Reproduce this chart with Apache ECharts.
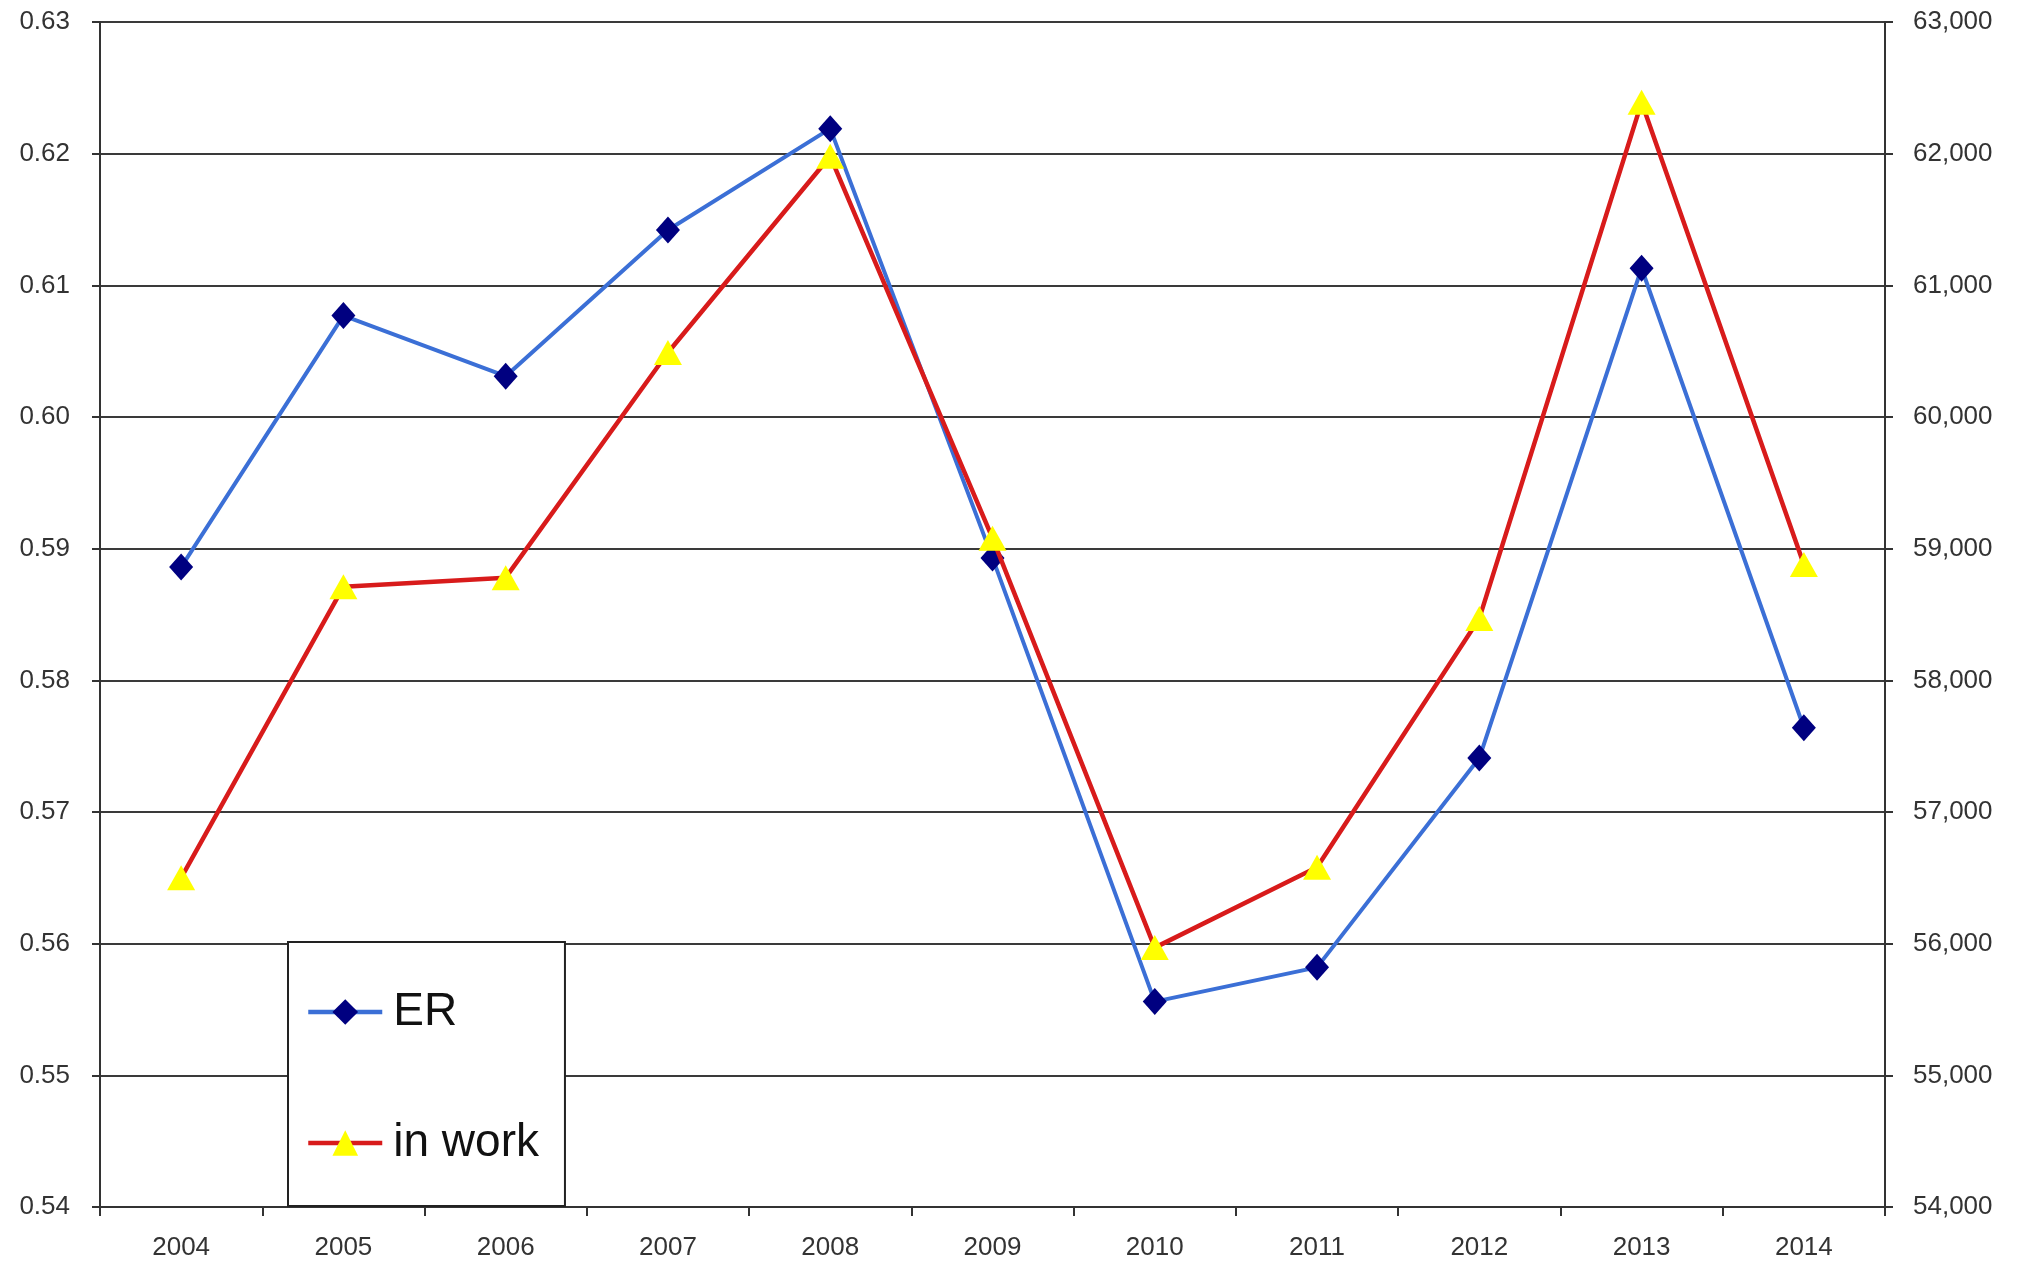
<!DOCTYPE html>
<html>
<head>
<meta charset="utf-8">
<script src="https://cdn.jsdelivr.net/npm/echarts@6/dist/echarts.min.js"></script>
<style>
html,body{margin:0;padding:0;background:#fff;}
#chart{width:2020px;height:1265px;}
</style>
</head>
<body>
<div id="chart"></div>
<script>
const years = ['2004','2005','2006','2007','2008','2009','2010','2011','2012','2013','2014'];
const erValues = [0.5886, 0.6077, 0.6031, 0.6142, 0.6219, 0.5893, 0.5556, 0.5582, 0.5741, 0.6113, 0.5764];
const inWorkValues = [56500, 58710, 58780, 60490, 61980, 59080, 55970, 56580, 58470, 62390, 58880];
const leftAxisRange = [0.54, 0.63, 0.01];
const rightAxisRange = [54000, 63000, 1000];

const FONT = '"Liberation Sans", Arial, sans-serif';
const chart = echarts.init(document.getElementById('chart'), null, {renderer: 'canvas'});
chart.setOption({
  animation: false,
  backgroundColor: '#ffffff',
  textStyle: {fontFamily: FONT},
  grid: {left: 100, right: 135, top: 22, bottom: 58, containLabel: false},
  legend: {
    orient: 'vertical',
    left: 288,
    top: 942,
    padding: [42, 26, 35, 18],
    backgroundColor: '#ffffff',
    borderColor: '#222',
    borderWidth: 2,
    borderRadius: 0,
    itemWidth: 74,
    itemHeight: 32,
    itemGap: 75,
    lineStyle: {width: 4.5},
    textStyle: {fontFamily: FONT, fontSize: 46, color: '#111', lineHeight: 56, padding: [0, 0, 0, 6]},
    data: ['ER', 'in work']
  },
  xAxis: {
    type: 'category',
    data: years,
    boundaryGap: true,
    axisLine: {show: true, lineStyle: {color: '#333', width: 2}},
    axisTick: {show: true, length: 9, lineStyle: {color: '#333', width: 2}},
    axisLabel: {fontFamily: FONT, fontSize: 26, color: '#333', margin: 28},
    splitLine: {show: false}
  },
  yAxis: [
    {
      type: 'value',
      position: 'left',
      min: leftAxisRange[0], max: leftAxisRange[1], interval: leftAxisRange[2],
      axisLine: {show: true, lineStyle: {color: '#333', width: 2}},
      axisTick: {show: true, length: 8, lineStyle: {color: '#333', width: 2}},
      axisLabel: {fontFamily: FONT, fontSize: 26, color: '#333', margin: 30,
        formatter: v => v.toFixed(2)},
      splitLine: {show: true, lineStyle: {color: '#3a3a3a', width: 2}}
    },
    {
      type: 'value',
      position: 'right',
      min: rightAxisRange[0], max: rightAxisRange[1], interval: rightAxisRange[2],
      axisLine: {show: true, lineStyle: {color: '#333', width: 2}},
      axisTick: {show: true, length: 8, lineStyle: {color: '#333', width: 2}},
      axisLabel: {fontFamily: FONT, fontSize: 26, color: '#333', margin: 28,
        formatter: v => v.toLocaleString('en-US')},
      splitLine: {show: false}
    }
  ],
  series: [
    {
      name: 'ER',
      type: 'line',
      yAxisIndex: 0,
      data: erValues,
      symbol: 'diamond',
      symbolSize: [24, 27],
      showAllSymbol: true,
      lineStyle: {color: '#3b6fd6', width: 4},
      itemStyle: {color: '#000080', borderWidth: 0},
      z: 3
    },
    {
      name: 'in work',
      type: 'line',
      yAxisIndex: 1,
      data: inWorkValues,
      symbol: 'triangle',
      symbolSize: [28, 25],
      showAllSymbol: true,
      lineStyle: {color: '#d81b1b', width: 4.5},
      itemStyle: {color: '#ffff00', borderWidth: 0},
      z: 4
    }
  ]
});
</script>
</body>
</html>
